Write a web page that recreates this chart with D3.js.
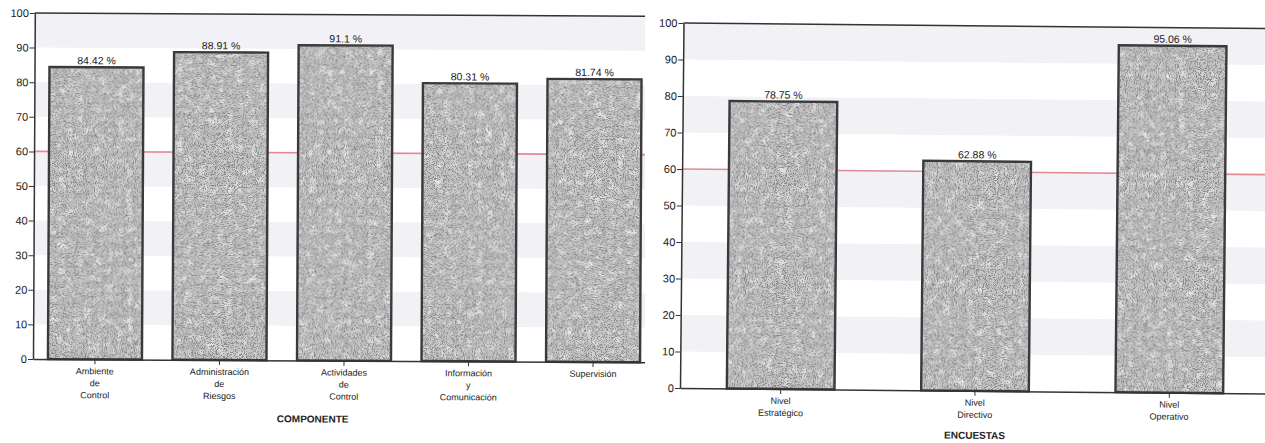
<!DOCTYPE html>
<html>
<head>
<meta charset="utf-8">
<script src="https://cdn.jsdelivr.net/npm/d3@7"></script>
<style>
  body { margin: 0; background: #fff; }
  svg { position: absolute; top: 0; }
  text { font-family: "Liberation Sans Narrow", "Liberation Sans", Arial, sans-serif; fill: #222; }
</style>
</head>
<body>
<div id="container"></div>
<script>
// data
const componentes = ["Ambiente de Control", "Administración de Riesgos", "Actividades de Control", "Información y Comunicación", "Supervisión"];
const componenteLineas = [["Ambiente", "de", "Control"], ["Administración", "de", "Riesgos"], ["Actividades", "de", "Control"], ["Información", "y", "Comunicación"], ["Supervisión"]];
const componenteValores = [84.42, 88.91, 91.1, 80.31, 81.74];

const encuestas = ["Nivel Estratégico", "Nivel Directivo", "Nivel Operativo"];
const encuestaLineas = [["Nivel", "Estratégico"], ["Nivel", "Directivo"], ["Nivel", "Operativo"]];
const encuestaValores = [78.75, 62.88, 95.06];

const yTicks = [0, 10, 20, 30, 40, 50, 60, 70, 80, 90, 100];
const referencia = 60;

function drawChart(o) {
    const svg = d3.select("#container").append("svg")
        .attr("width", o.w).attr("height", 443)
        .style("left", o.left + "px");

    // speckled scan-like texture for the bars
    const f = svg.append("defs").append("filter").attr("id", o.id + "-grain")
        .attr("x", 0).attr("y", 0).attr("width", 1).attr("height", 1);
    f.append("feTurbulence").attr("type", "fractalNoise").attr("baseFrequency", 0.12)
        .attr("numOctaves", 2).attr("seed", o.seed).attr("result", "blot");
    f.append("feColorMatrix").attr("in", "blot").attr("type", "matrix")
        .attr("values", "0 0 0 0 0.92  0 0 0 0 0.92  0 0 0 0 0.92  2 0 0 0 -0.95")
        .attr("result", "blotw");
    f.append("feComposite").attr("in", "blotw").attr("in2", "SourceGraphic").attr("operator", "atop").attr("result", "base");
    f.append("feTurbulence").attr("type", "fractalNoise").attr("baseFrequency", 1.1)
        .attr("numOctaves", 1).attr("seed", o.seed + 7).attr("result", "noise");
    f.append("feColorMatrix").attr("in", "noise").attr("type", "matrix")
        .attr("values", "0 0 0 0 0.25  0 0 0 0 0.25  0 0 0 0 0.25  -16 0 0 0 7.6")
        .attr("result", "dots");
    f.append("feComposite").attr("in", "dots").attr("in2", "base").attr("operator", "atop");

    const g = svg.append("g").attr("transform", `rotate(${o.tilt}, ${o.x0}, ${o.y0})`);

    const x = d3.scaleBand().domain(o.cats).range([o.x0, o.x1])
        .paddingInner(o.pi).paddingOuter(o.po);
    const y = d3.scaleLinear().domain([0, 100]).range([o.y0, o.y100]);

    // alternating background bands
    g.selectAll("rect.band")
        .data(yTicks.slice(0, -1).filter(t => (t / 10) % 2 === 1))
        .enter().append("rect")
        .attr("class", "band")
        .attr("x", o.x0).attr("width", o.x1 - o.x0)
        .attr("y", d => y(d + 10)).attr("height", d => y(d) - y(d + 10))
        .attr("fill", "#f2f2f6");

    // reference line
    g.append("line")
        .attr("x1", o.x0).attr("x2", o.x1)
        .attr("y1", y(referencia)).attr("y2", y(referencia))
        .attr("stroke", "#e08a94").attr("stroke-width", 1.6);

    // bars: textured fill, then a plain outline on top
    g.selectAll("rect.bar")
        .data(o.vals)
        .enter().append("rect")
        .attr("class", "bar")
        .attr("x", (d, i) => x(o.cats[i]))
        .attr("y", d => y(d))
        .attr("width", x.bandwidth())
        .attr("height", d => y(0) - y(d))
        .attr("fill", "#c2c2c2")
        .attr("filter", `url(#${o.id}-grain)`);
    g.selectAll("rect.outline")
        .data(o.vals)
        .enter().append("rect")
        .attr("class", "outline")
        .attr("x", (d, i) => x(o.cats[i]))
        .attr("y", d => y(d))
        .attr("width", x.bandwidth())
        .attr("height", d => y(0) - y(d))
        .attr("fill", "none")
        .attr("stroke", "#3a3a3a").attr("stroke-width", 2.4);

    // value labels
    g.selectAll("text.val")
        .data(o.vals)
        .enter().append("text")
        .attr("class", "val")
        .attr("x", (d, i) => x(o.cats[i]) + x.bandwidth() / 2)
        .attr("y", d => y(d) - 3)
        .attr("text-anchor", "middle")
        .attr("font-size", 10.5)
        .text(d => d + " %");

    // top frame line
    g.append("line")
        .attr("x1", o.x0).attr("x2", o.x1)
        .attr("y1", y(100)).attr("y2", y(100))
        .attr("stroke", "#333").attr("stroke-width", 1.5);

    // y axis
    const yAxis = g.append("g")
        .attr("transform", "translate(" + o.x0 + ",0)")
        .call(d3.axisLeft(y).tickValues(yTicks).tickSize(5).tickSizeOuter(0));
    yAxis.select(".domain").attr("stroke", "#333").attr("stroke-width", 1.5);
    yAxis.selectAll(".tick line").attr("stroke", "#333");
    yAxis.selectAll(".tick text").attr("font-size", 11).attr("font-family", null).attr("x", -6);

    // x axis
    const xAxis = g.append("g")
        .attr("transform", "translate(0," + o.y0 + ")")
        .call(d3.axisBottom(x).tickSize(5).tickSizeOuter(0).tickFormat(""));
    xAxis.select(".domain").attr("stroke", "#333").attr("stroke-width", 1.5);
    xAxis.selectAll(".tick line").attr("stroke", "#333");

    // multi-line category labels
    o.cats.forEach((c, i) => {
        const t = g.append("text")
            .attr("x", x(c) + x.bandwidth() / 2)
            .attr("y", o.y0 + o.labelDy)
            .attr("text-anchor", "middle")
            .attr("font-size", 9);
        o.lines[i].forEach((l, j) => {
            t.append("tspan").attr("x", x(c) + x.bandwidth() / 2)
                .attr("dy", j === 0 ? 0 : 12).text(l);
        });
    });

    // axis title
    g.append("text")
        .attr("x", o.titleX).attr("y", o.titleY)
        .attr("text-anchor", "middle")
        .attr("font-size", 10).attr("font-weight", "bold")
        .text(o.title);
}

drawChart({
    id: "comp", left: 0, w: 645, seed: 4, tilt: 0.3,
    cats: componentes, lines: componenteLineas, vals: componenteValores,
    x0: 33, x1: 655, y0: 359, y100: 13, pi: 0.245, po: 0.12,
    labelDy: 15, title: "COMPONENTE", titleX: 313, titleY: 421
});

drawChart({
    id: "enc", left: 0, w: 1265, seed: 9, tilt: 0.55,
    cats: encuestas, lines: encuestaLineas, vals: encuestaValores,
    x0: 680, x1: 1270, y0: 388, y100: 23, pi: 0.446, po: 0.241,
    labelDy: 15, title: "ENCUESTAS", titleX: 975, titleY: 436
});
</script>
</body>
</html>
